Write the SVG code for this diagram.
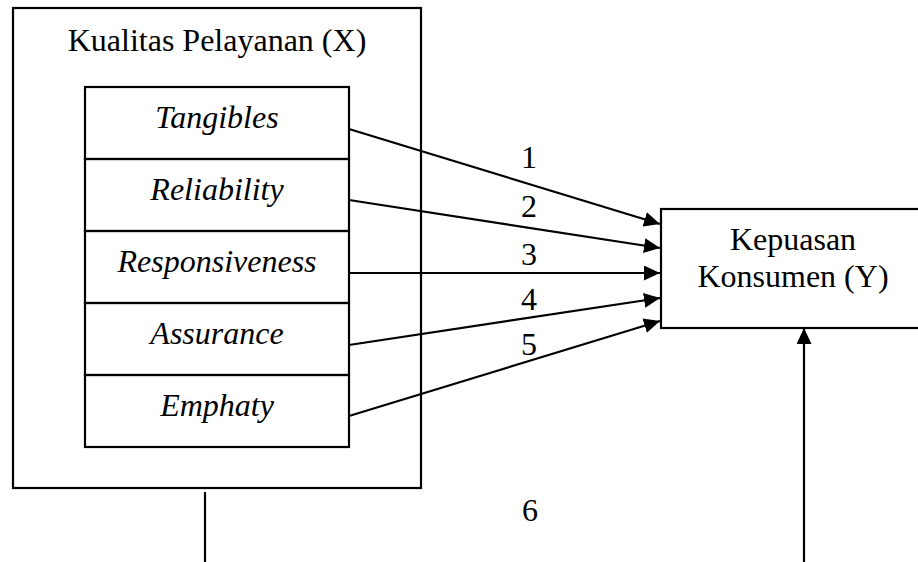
<svg xmlns="http://www.w3.org/2000/svg" width="918" height="562" viewBox="0 0 918 562">
<style>
.box{fill:none;stroke:#000;stroke-width:2.2}
.t{font-family:'Liberation Serif','Times New Roman',serif;font-size:32px;fill:#000;text-anchor:middle}
.i{font-style:italic}
.c{stroke:#000;stroke-width:2.2;fill:none}
</style>
<defs>
<marker id="ah" viewBox="0 0 16 15" refX="16" refY="7.5" markerWidth="16" markerHeight="15" markerUnits="userSpaceOnUse" orient="auto">
<path d="M0,0 L16,7.5 L0,15 Z" fill="#000"/>
</marker>
</defs>
<rect width="918" height="562" fill="#fff"/>
<g id="kualitas">
<rect class="box" x="13" y="8" width="408" height="480"/>
<text class="t" x="217" y="51">Kualitas Pelayanan (X)</text>
</g>
<g id="tangibles">
<rect class="box" x="85" y="87" width="264" height="72"/>
<text class="t i" x="217" y="128">Tangibles</text>
</g>
<g id="reliability">
<rect class="box" x="85" y="159" width="264" height="72"/>
<text class="t i" x="217" y="200">Reliability</text>
</g>
<g id="responsiveness">
<rect class="box" x="85" y="231" width="264" height="72"/>
<text class="t i" x="217" y="272">Responsiveness</text>
</g>
<g id="assurance">
<rect class="box" x="85" y="303" width="264" height="72"/>
<text class="t i" x="217" y="344">Assurance</text>
</g>
<g id="emphaty">
<rect class="box" x="85" y="375" width="264" height="72"/>
<text class="t i" x="217" y="416">Emphaty</text>
</g>
<g id="kepuasan">
<rect class="box" x="661" y="209" width="266" height="119"/>
<text class="t" x="793" y="250">Kepuasan</text>
<text class="t" x="793" y="287">Konsumen (Y)</text>
</g>
<g id="connectors">
<line class="c" x1="349" y1="129" x2="660" y2="224" marker-end="url(#ah)"/>
<line class="c" x1="349" y1="200" x2="660" y2="248" marker-end="url(#ah)"/>
<line class="c" x1="349" y1="273" x2="660" y2="273" marker-end="url(#ah)"/>
<line class="c" x1="349" y1="345" x2="660" y2="298" marker-end="url(#ah)"/>
<line class="c" x1="349" y1="416" x2="660" y2="321" marker-end="url(#ah)"/>
<line class="c" x1="205" y1="492" x2="205" y2="562"/>
<line class="c" x1="804" y1="562" x2="804" y2="328" marker-end="url(#ah)"/>
<text class="t" x="529" y="168">1</text>
<text class="t" x="529" y="217">2</text>
<text class="t" x="529" y="265">3</text>
<text class="t" x="529" y="310">4</text>
<text class="t" x="529" y="355">5</text>
<text class="t" x="530" y="521">6</text>
</g>
</svg>
